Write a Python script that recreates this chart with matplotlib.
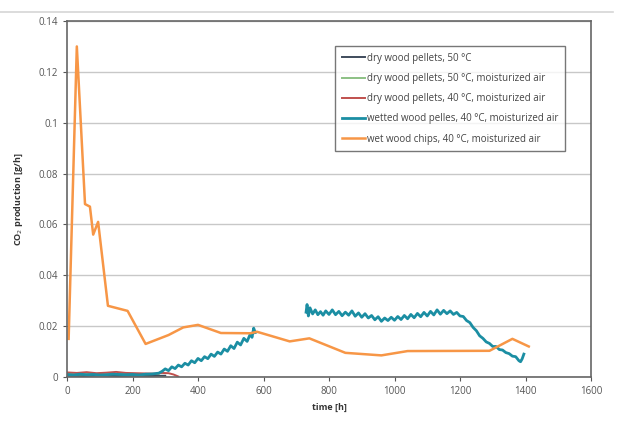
import matplotlib
matplotlib.use("Agg")
import matplotlib.pyplot as plt
import numpy as np
from matplotlib.lines import Line2D

# series (time in h, CO2 production in g/h)
dry50_t = [0, 50, 100, 150, 200, 250, 300]
dry50_v = [0.0005, 0.0004, 0.0006, 0.0004, 0.0005, 0.0004, 0.0005]

dry50m_t = [0, 40, 80, 120, 160, 200, 240, 280]
dry50m_v = [0.0012, 0.0010, 0.0013, 0.0011, 0.0012, 0.0010, 0.0011, 0.0012]

dry40m_t = [0, 30, 60, 90, 120, 150, 180, 210, 240, 270, 290, 310, 325, 340]
dry40m_v = [0.0018, 0.0016, 0.0019, 0.0015, 0.0017, 0.0020, 0.0016, 0.0015,
            0.0014, 0.0013, 0.0016, 0.0015, 0.0010, 0.0002]

wet_t1 = [0, 20, 40, 60, 80, 100, 120, 140, 160, 180, 200, 220, 240, 260, 280,
          290, 300, 310, 320, 330, 340, 350, 360, 370, 380, 390, 400, 410, 420,
          430, 440, 450, 460, 470, 480, 490, 500, 510, 520, 530, 540, 550, 560,
          565, 570, 575]
wet_v1 = [0.0010, 0.0008, 0.0011, 0.0009, 0.0010, 0.0008, 0.0009, 0.0011,
          0.0010, 0.0009, 0.0010, 0.0008, 0.0011, 0.0012, 0.0015,
          0.0022, 0.0032, 0.0025, 0.0040, 0.0033, 0.0047, 0.0040, 0.0054,
          0.0047, 0.0064, 0.0056, 0.0073, 0.0064, 0.0080, 0.0072, 0.0090,
          0.0081, 0.0098, 0.0090, 0.0110, 0.0101, 0.0123, 0.0112, 0.0137,
          0.0126, 0.0152, 0.0140, 0.0170, 0.0156, 0.0192, 0.0175]

wet_t2 = [730, 733, 737, 742, 750, 758, 766, 774, 782, 790, 800, 810, 820, 830,
          840, 850, 860, 870, 880, 890, 900, 910, 920, 930, 940, 950, 960, 970,
          980, 990, 1000, 1010, 1020, 1030, 1040, 1050, 1060, 1070, 1080, 1090,
          1100, 1110, 1120, 1130, 1140, 1150, 1160, 1170, 1180, 1190, 1200,
          1210, 1220, 1230, 1240, 1250, 1260, 1270, 1280, 1290, 1300, 1310,
          1320, 1330, 1340, 1350, 1360, 1370, 1380, 1385, 1390, 1395]
wet_v2 = [0.0255, 0.0285, 0.0240, 0.0272, 0.0248, 0.0264, 0.0245, 0.0257,
          0.0243, 0.0260, 0.0246, 0.0264, 0.0245, 0.0258, 0.0241, 0.0255,
          0.0243, 0.0260, 0.0239, 0.0252, 0.0235, 0.0249, 0.0232, 0.0242,
          0.0225, 0.0237, 0.0219, 0.0232, 0.0222, 0.0235, 0.0223, 0.0238,
          0.0226, 0.0242, 0.0229, 0.0246, 0.0233, 0.0250, 0.0237, 0.0254,
          0.0240, 0.0258, 0.0244, 0.0264, 0.0247, 0.0262, 0.0249, 0.0260,
          0.0246, 0.0254, 0.0240, 0.0238, 0.0222, 0.0214, 0.0195, 0.0182,
          0.0162, 0.0152, 0.0138, 0.0132, 0.0120, 0.0120, 0.0108, 0.0106,
          0.0096, 0.0092, 0.0082, 0.0080, 0.0064, 0.0060, 0.0072, 0.0090]

chips_t = [5, 30, 55, 70, 80, 95, 125, 185, 240, 310, 355, 400, 470, 560, 580,
           680, 740, 850, 960, 1040, 1290, 1360, 1410]
chips_v = [0.015, 0.130, 0.068, 0.067, 0.056, 0.061, 0.028, 0.026, 0.013,
           0.0165, 0.0195, 0.0205, 0.0173, 0.0172, 0.0178, 0.014, 0.0152,
           0.0095, 0.0085, 0.0102, 0.0103, 0.015, 0.012]

labels = ["dry wood pellets, 50 °C",
          "dry wood pellets, 50 °C, moisturized air",
          "dry wood pellets, 40 °C, moisturized air",
          "wetted wood pelles, 40 °C, moisturized air",
          "wet wood chips, 40 °C, moisturized air"]
colors = ["#3f4c5c", "#8cc084", "#c0504d", "#1b8ea3", "#f79646"]

plt.rcParams['font.family'] = ['Open Sans', 'DejaVu Sans']

# the page heading is cut off by the scan: draw on a taller canvas, crop the top
W, H, extra = 626, 421, 45
Ht = H + extra
fig = plt.figure(figsize=(W / 100, Ht / 100), dpi=100)
ax = fig.add_axes([67 / W, 44 / Ht, 524 / W, 356 / Ht])

ax.plot(dry50_t, dry50_v, color=colors[0], lw=1.4, label=labels[0])
ax.plot(dry50m_t, dry50m_v, color=colors[1], lw=1.4, label=labels[1])
ax.plot(dry40m_t, dry40m_v, color=colors[2], lw=1.4, label=labels[2])
ax.plot(wet_t1, wet_v1, color=colors[3], lw=2.0, label=labels[3])
ax.plot(wet_t2, wet_v2, color=colors[3], lw=2.0)
ax.plot(chips_t, chips_v, color=colors[4], lw=1.8, label=labels[4])

ax.set_xlim(0, 1600)
ax.set_ylim(0, 0.14)
ax.set_xticks(range(0, 1601, 200))
ax.set_yticks([0, 0.02, 0.04, 0.06, 0.08, 0.1, 0.12, 0.14])
ax.set_yticklabels(["0", "0.02", "0.04", "0.06", "0.08", "0.1", "0.12", "0.14"])
ax.yaxis.grid(True, color="#c8c8c8", lw=1)
ax.set_axisbelow(True)
ax.tick_params(labelsize=7, colors="#555555", length=3, width=0.8)
for s in ax.spines.values():
    s.set_color("#666666")
    s.set_linewidth(1.2)

ax.set_xlabel("time [h]", fontsize=6.5, fontweight="bold", color="#333333", labelpad=4)
ax.set_ylabel("CO$_2$ production [g/h]", fontsize=6.5, fontweight="bold",
              color="#333333", labelpad=10)

leg = ax.legend(loc="upper left", bbox_to_anchor=(0.511, 0.93), fontsize=7,
                fancybox=False, edgecolor="#555555", handlelength=2.4,
                borderpad=0.7, labelspacing=0.95, handletextpad=0.2,
                borderaxespad=0)
leg.get_frame().set_linewidth(1.0)
for t in leg.get_texts():
    t.set_color("#444444")

# chart area border at the top
fig.add_artist(Line2D([0.0, 0.98], [1 - (extra + 12) / Ht] * 2, color="#d6d6d6", lw=1.2))

# heading: only the lowest few pixels stay inside the crop
fig.text(0.005, 1 - (extra - 6) / Ht, "Fig. 3: CO₂ production of wood pellets",
         fontsize=20, fontweight="bold", family="DejaVu Sans", va="baseline")

fig.canvas.draw()
img = np.asarray(fig.canvas.buffer_rgba())[extra:, :, :]
plt.imsave("out.png", img)
